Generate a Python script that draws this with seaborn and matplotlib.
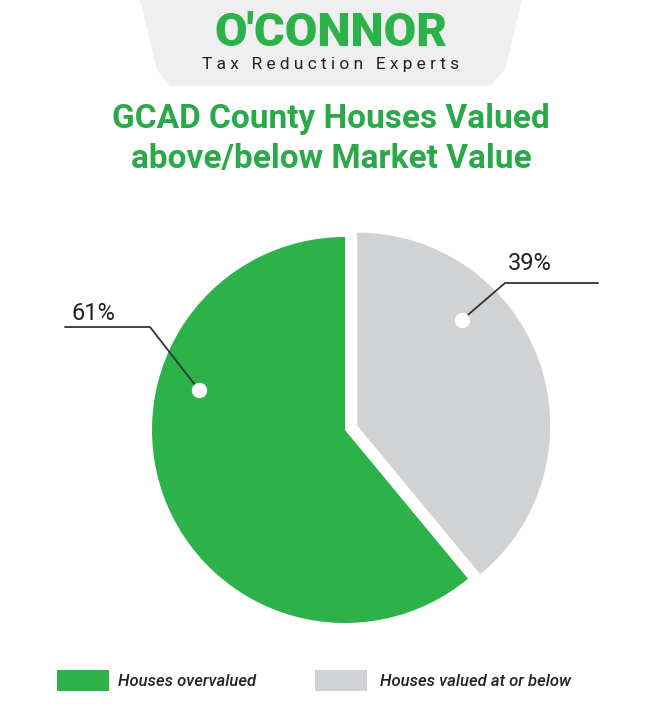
import matplotlib
matplotlib.use("Agg")
import matplotlib.pyplot as plt
import seaborn as sns
from matplotlib.patches import Polygon, Rectangle

categories = ["Houses valued at or below", "Houses overvalued"]
values = [39, 61]
labels = ["39%", "61%"]
colors = ["#d1d2d4", "#2db24a"]

sns.set_theme(style="white")
plt.rcParams['font.family'] = ['Roboto', 'DejaVu Sans']

W, H = 662, 716
fig = plt.figure(figsize=(W/100, H/100), dpi=100)
ax = fig.add_axes([0, 0, 1, 1])

def Y(py): return H - py

# logo background
ax.add_patch(Polygon([(140, Y(0)), (522, Y(0)), (505, Y(70)), (490, Y(86)), (170, Y(86)), (157, Y(70))],
                     closed=True, color="#efefef", lw=0, zorder=0))
ax.text(331, Y(33), "O'CONNOR", ha='center', va='center', fontsize=34, fontweight='black', color="#2db24a")
ax.text(331, Y(64), "T a x   R e d u c t i o n   E x p e r t s", ha='center', va='center', fontsize=12.5, color="#222222")

ax.text(331, Y(139), "GCAD County Houses Valued\nabove/below Market Value", ha='center', va='center',
        fontsize=24, fontweight='bold', color="#2aa84a", linespacing=1.3)

wedges, _ = ax.pie(values, colors=colors, startangle=90, counterclock=False, center=(345, Y(430)),
                   radius=193, explode=[13, 0], frame=True, wedgeprops=dict(linewidth=0))
ax.set_xlim(0, W); ax.set_ylim(0, H); ax.set_aspect('equal'); ax.axis('off')

# leader lines
ax.plot([462, 505, 598], [Y(320), Y(283), Y(283)], color="#333333", lw=1.3)
ax.plot([199, 150, 65], [Y(390), Y(327), Y(327)], color="#333333", lw=1.3)
ax.scatter([462, 199], [Y(320), Y(390)], s=100, color="white", zorder=5)
ax.text(530, Y(263), labels[0], ha='center', va='center', fontsize=17, color="#222222")
ax.text(93, Y(313), labels[1], ha='center', va='center', fontsize=17, color="#222222")

# legend
ax.add_patch(Rectangle((57, Y(691)), 52, 21, color=colors[1], lw=0))
ax.text(118, Y(681), categories[1], ha='left', va='center', fontsize=12, style='italic', fontweight='medium', color="#222222")
ax.add_patch(Rectangle((315, Y(691)), 52, 21, color=colors[0], lw=0))
ax.text(380, Y(681), categories[0], ha='left', va='center', fontsize=12, style='italic', fontweight='medium', color="#222222")

fig.savefig("out.png", dpi=100)
